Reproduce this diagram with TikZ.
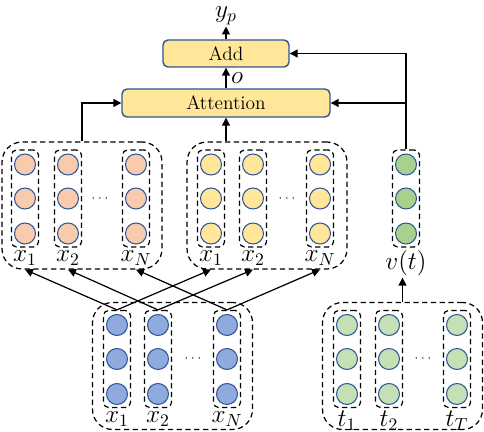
\documentclass[tikz,border=0pt]{standalone}
\usetikzlibrary{arrows.meta,positioning}
\definecolor{boxColor}{HTML}{FFE699}
\definecolor{edgeColor}{HTML}{2F5597}
\definecolor{peachColor}{HTML}{F8CBAD}
\definecolor{yelColor}{HTML}{FFE699}
\definecolor{blueColor}{HTML}{8FAADC}
\definecolor{greenColor}{HTML}{A9D18E}
\definecolor{lgreenColor}{HTML}{C5E0B4}
\tikzset{
	neuron/.style={circle,draw=edgeColor,line width=0.6pt,minimum size=0.42cm,inner sep=0},
	colbox/.style={draw,dash pattern=on 3pt off 2pt,rounded corners=1mm,minimum width=0.54cm,minimum height=1.94cm},
	group/.style={draw,dash pattern=on 3pt off 2pt,rounded corners=0.4cm,minimum width=3.2cm,minimum height=2.54cm},
	block/.style={draw=edgeColor,fill=boxColor,rounded corners=1mm,line width=0.8pt,inner sep=0,font=\fontsize{11}{13}\selectfont},
	lab/.style={inner sep=0.5pt,font=\Large}
}
% one dashed column of three neurons
\newcommand{\ncol}[4]{
	\node[colbox] (#1) at (#2,#3) {};
	\node[neuron,fill=#4] (#1a) at (#2,#3-34) {};
	\node[neuron,fill=#4] (#1b) at (#2,#3) {};
	\node[neuron,fill=#4] (#1c) at (#2,#3+35) {};
}
\begin{document}
\begin{tikzpicture}[x=0.02cm,y=-0.02cm,->,>={Triangle[length=4.5pt,width=4.5pt]},line width=0.7pt]
	\useasboundingbox (0,0) rectangle (484,432);
	% blocks
	\node[block,minimum width=2.52cm,minimum height=0.54cm] (add) at (226,53.5) {Add};
	\node[block,minimum width=4.16cm,minimum height=0.56cm] (att) at (226,103) {Attention};
	\node[lab] (yp) at (226,16) {$y_p$};
	% groups
	\node[group] (pg) at (82,205.5) {};
	\node[group] (yg) at (267,205.5) {};
	\node[group] (bg) at (172.5,366) {};
	\node[group] (tg) at (402.5,366) {};
	\ncol{p1}{25}{198.5}{peachColor}
	\ncol{p2}{68}{198.5}{peachColor}
	\ncol{pN}{136}{198.5}{peachColor}
	\ncol{y1}{211}{198.5}{yelColor}
	\ncol{y2}{253}{198.5}{yelColor}
	\ncol{yN}{320}{198.5}{yelColor}
	\ncol{v}{406}{198.5}{greenColor}
	\ncol{b1}{117}{359}{blueColor}
	\ncol{b2}{158}{359}{blueColor}
	\ncol{bN}{227}{359}{blueColor}
	\ncol{t1}{347}{359}{lgreenColor}
	\ncol{t2}{389}{359}{lgreenColor}
	\ncol{tT}{457}{359}{lgreenColor}
	\node[font=\scriptsize] (pd) at (100,198.5) {$\cdots$};
	\node[font=\scriptsize] (yd) at (287,198.5) {$\cdots$};
	\node[font=\scriptsize] (bd) at (193,359) {$\cdots$};
	\node[font=\scriptsize] (td) at (423,359) {$\cdots$};
	% labels
	\node[lab,below=1pt of p1] (lp1) {$x_1$};
	\node[lab,below=1pt of p2] (lp2) {$x_2$};
	\node[lab,below=1pt of pN] (lpN) {$x_N$};
	\node[lab,below=1pt of y1] (ly1) {$x_1$};
	\node[lab,below=1pt of y2] (ly2) {$x_2$};
	\node[lab,below=1pt of yN] (lyN) {$x_N$};
	\node[lab,below=1pt of v] (lv) {$v(t)$};
	\node[lab,below=1pt of b1] (lb1) {$x_1$};
	\node[lab,below=1pt of b2] (lb2) {$x_2$};
	\node[lab,below=1pt of bN] (lbN) {$x_N$};
	\node[lab,below=1pt of t1] (lt1) {$t_1$};
	\node[lab,below=1pt of t2] (lt2) {$t_2$};
	\node[lab,below=1pt of tT] (ltT) {$t_T$};
	% arrows
	\draw (add) -- (yp);
	\draw (att) -- node[lab,right=2pt] {$o$} (add);
	\draw (pg.north) |- (att.west);
	\draw (yg.north -| att.south) -- (att.south);
	\draw (v.north) |- (add.east);
	\draw (v.north |- att.east) -- (att.east);
	\draw (tg.north) -- (tg.north |- lv.south);
	\draw (b1.north) -- (p1 |- pg.south);
	\draw (b1.north) -- (y1 |- yg.south);
	\draw (b2.north) -- (p2 |- pg.south);
	\draw (b2.north) -- (y2 |- yg.south);
	\draw (bN.north) -- (pN |- pg.south);
	\draw (bN.north) -- (yN |- yg.south);
\end{tikzpicture}
\end{document}
